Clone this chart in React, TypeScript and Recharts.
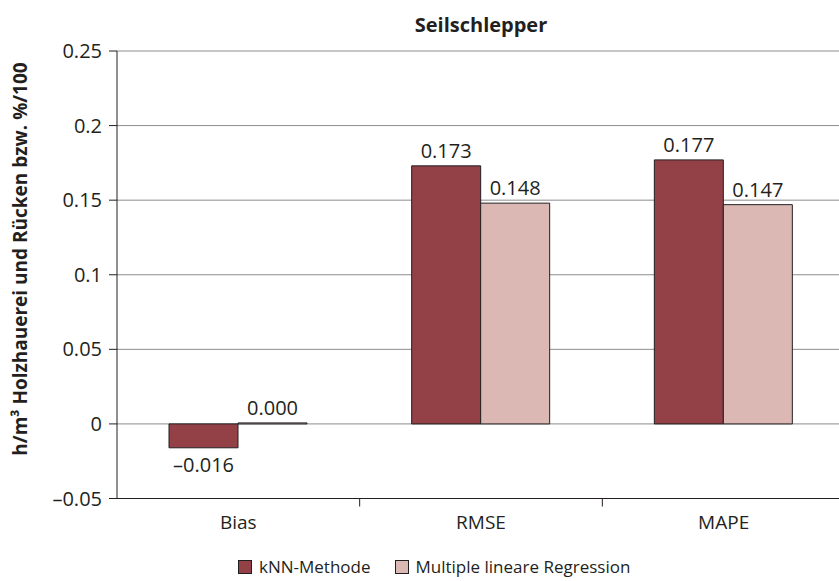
import {
  BarChart,
  Bar,
  XAxis,
  YAxis,
  CartesianGrid,
  LabelList,
  Label,
} from "recharts";

const categories: string[] = ["Bias", "RMSE", "MAPE"];
const knnValues: number[] = [-0.016, 0.173, 0.177];
const mlrValues: number[] = [0.0, 0.148, 0.147];
const yTicks: number[] = [-0.05, 0, 0.05, 0.1, 0.15, 0.2, 0.25];

const seriesNames = {
  knn: "kNN-Methode",
  mlr: "Multiple lineare Regression",
};

const DARK = "#934047";
const LIGHT = "#dcb8b4";
const INK = "#231f20";
const FONT = "'Open Sans', sans-serif";

const data = categories.map((name, i) => ({
  name,
  knn: knnValues[i],
  mlr: mlrValues[i],
}));

const TICK_SIZE = 8;
const TICK_MARGIN = 9;

function formatValue(v: number): string {
  const s = Math.abs(v).toFixed(3);
  return v < 0 ? "\u2013" + s : s;
}

function formatTick(v: number): string {
  const s = String(Math.abs(v));
  return v < 0 ? "\u2013" + s : s;
}

function BarValueLabel(props: any) {
  const { x, y, width, height, value } = props;
  const h = Number(height) || 0;
  const top = Math.min(y, y + h);
  const bottom = Math.max(y, y + h);
  const cx = x + width / 2;
  const negative = Number(value) < 0;
  return (
    <text
      x={cx}
      y={negative ? bottom + 24 : top - 8}
      textAnchor="middle"
      fill={INK}
      fontSize={20}
      fontFamily={FONT}
    >
      {formatValue(Number(value))}
    </text>
  );
}

function CategoryTick(props: any) {
  const { x, y, payload, index } = props;
  const half = payload.offset || 121.3;
  const axisY = y - TICK_SIZE - TICK_MARGIN;
  return (
    <g>
      {index > 0 && (
        <line
          x1={x - half}
          x2={x - half}
          y1={axisY}
          y2={axisY + TICK_SIZE}
          stroke={INK}
          strokeWidth={1}
        />
      )}
      <text
        x={x}
        y={y}
        dy="0.71em"
        textAnchor="middle"
        fill={INK}
        fontSize={19}
        fontFamily={FONT}
      >
        {payload.value}
      </text>
    </g>
  );
}

function YLabel() {
  return (
    <text
      x={27}
      y={259}
      transform="rotate(-90 27 259)"
      textAnchor="middle"
      fill={INK}
      fontSize={19}
      fontWeight="bold"
      fontFamily={FONT}
    >
      h/m³ Holzhauerei und Rücken bzw. %/100
    </text>
  );
}

function LegendItem({
  color,
  label,
  gap,
}: {
  color: string;
  label: string;
  gap: number;
}) {
  return (
    <div style={{ display: "flex", alignItems: "center", marginRight: gap }}>
      <div
        style={{
          width: 12,
          height: 12,
          background: color,
          border: `1px solid ${INK}`,
          marginRight: 7,
        }}
      />
      <span style={{ fontSize: 17, color: INK, fontFamily: FONT }}>{label}</span>
    </div>
  );
}

export default function App() {
  return (
    <div
      style={{
        position: "absolute",
        left: 0,
        top: 0,
        width: 839,
        height: 581,
        overflow: "hidden",
        background: "#fff",
        fontFamily: FONT,
      }}
    >
      <div
        style={{
          position: "absolute",
          left: 117,
          width: 728,
          top: 11,
          textAlign: "center",
          fontWeight: "bold",
          fontSize: 20,
          color: INK,
        }}
      >
        Seilschlepper
      </div>
      <div style={{ position: "absolute", left: 0, top: 0 }}>
        <BarChart
          width={870}
          height={581}
          data={data}
          margin={{ top: 51, right: 25, bottom: 42.5, left: 0 }}
          barGap={0}
          barSize={69}
        >
          <CartesianGrid vertical={false} stroke="#8c8c8c" strokeWidth={1} />
          <XAxis
            dataKey="name"
            height={40}
            tickLine={false}
            tickSize={TICK_SIZE}
            tickMargin={TICK_MARGIN}
            axisLine={{ stroke: INK }}
            tick={<CategoryTick />}
            interval={0}
          />
          <YAxis
            width={117}
            domain={[-0.05, 0.25]}
            ticks={yTicks}
            tickFormatter={formatTick}
            tickSize={8}
            tickMargin={7}
            axisLine={{ stroke: INK }}
            tickLine={{ stroke: INK }}
            tick={{ fill: INK, fontSize: 20, fontFamily: FONT }}
            allowDataOverflow
          >
            <Label content={<YLabel />} />
          </YAxis>
          <Bar
            dataKey="knn"
            name={seriesNames.knn}
            fill={DARK}
            stroke={INK}
            strokeWidth={1}
            minPointSize={1}
            isAnimationActive={false}
          >
            <LabelList dataKey="knn" content={<BarValueLabel />} />
          </Bar>
          <Bar
            dataKey="mlr"
            name={seriesNames.mlr}
            fill={LIGHT}
            stroke={INK}
            strokeWidth={1}
            minPointSize={1}
            isAnimationActive={false}
          >
            <LabelList dataKey="mlr" content={<BarValueLabel />} />
          </Bar>
        </BarChart>
      </div>
      <div
        style={{
          position: "absolute",
          left: 238,
          top: 555,
          display: "flex",
          alignItems: "center",
        }}
      >
        <LegendItem color={DARK} label={seriesNames.knn} gap={24} />
        <LegendItem color={LIGHT} label={seriesNames.mlr} gap={0} />
      </div>
    </div>
  );
}
